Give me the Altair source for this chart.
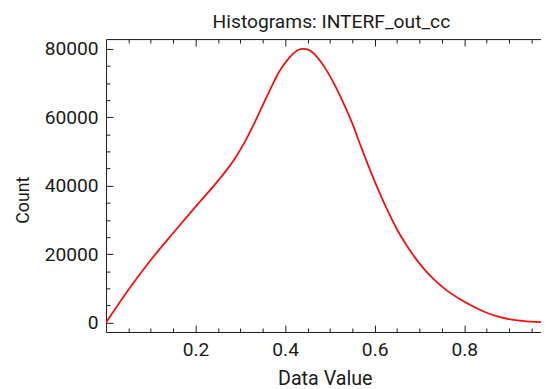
import altair as alt
import pandas as pd

# ---- data ----
DATA_VALUE = [0.0, 0.05, 0.1, 0.15, 0.2, 0.25, 0.27, 0.29, 0.31, 0.33, 0.36,
              0.39, 0.41, 0.43, 0.44, 0.45, 0.47, 0.49, 0.51, 0.53, 0.55,
              0.57, 0.59, 0.61, 0.63, 0.65, 0.67, 0.69, 0.71, 0.73, 0.76,
              0.79, 0.82, 0.85, 0.88, 0.91, 0.94, 0.975]
COUNT = [0, 9600, 18300, 26200, 33900, 41400, 44700, 48400, 52800, 57900, 66300,
         74000, 77500, 79700, 80000, 79800, 77800, 74200, 69600, 64200, 58200,
         51200, 44500, 38200, 32400, 27200, 22800, 19000, 15700, 12900, 9500,
         6900, 4700, 2900, 1600, 800, 350, 150]

X_LABELS = [0.2, 0.4, 0.6, 0.8]
X_MINOR = [0.05, 0.1, 0.15, 0.25, 0.3, 0.35, 0.45, 0.5, 0.55, 0.65, 0.7, 0.75, 0.85, 0.9, 0.95]
Y_LABELS = [0, 20000, 40000, 60000, 80000]
Y_MINOR = [5000, 10000, 15000, 25000, 30000, 35000, 45000, 50000, 55000,
           65000, 70000, 75000]

X_DOMAIN = [0, 0.9714]
Y_DOMAIN = [-2730, 82830]

TITLE = "Histograms: INTERF_out_cc"
X_TITLE = "Data Value"
Y_TITLE = "Count"

df = pd.DataFrame({"value": DATA_VALUE, "count": COUNT})

FONT = "Roboto"
INK = "#1a1a1a"
xs = alt.Scale(domain=X_DOMAIN, nice=False, zero=False)
ys = alt.Scale(domain=Y_DOMAIN, nice=False, zero=False)


def tick_axis(orient, values, size, offset, domain=False):
    return alt.Axis(orient=orient, values=values, tickSize=size, offset=offset,
                    labels=False, domain=domain, grid=False, title=None,
                    tickColor=INK, tickWidth=1, domainColor=INK)


main = alt.Chart(df).mark_line(color="#f01010", strokeWidth=1.8, clip=True,
                               interpolate="monotone").encode(
    x=alt.X("value:Q", scale=xs, axis=alt.Axis(
        orient="bottom", values=X_LABELS, ticks=False, tickSize=0, labelPadding=9,
        labelFontSize=19.5, labelFont=FONT, labelColor=INK, domainColor=INK,
        grid=False, title=X_TITLE, titleFont=FONT, titleFontSize=20,
        titleFontWeight="normal", titleColor=INK, titleX=222, titleY=53,
        titleBaseline="alphabetic", titleAlign="center", format=".1f")),
    y=alt.Y("count:Q", scale=ys, axis=alt.Axis(
        orient="left", values=Y_LABELS, ticks=False, tickSize=0, labelPadding=8,
        labelFontSize=19.5, labelFont=FONT, labelColor=INK, domainColor=INK,
        grid=False, format="d", title=Y_TITLE, titleFont=FONT, titleFontSize=18,
        titleFontWeight="normal", titleColor=INK, titleAngle=-90,
        titleX=-79, titleY=163, titleBaseline="alphabetic", titleAlign="center")),
)


def ghost(xaxis, yaxis):
    return alt.Chart(df).mark_line(opacity=0).encode(
        x=alt.X("value:Q", scale=xs, axis=xaxis),
        y=alt.Y("count:Q", scale=ys, axis=yaxis),
    )


major = ghost(tick_axis("bottom", X_LABELS, 7, -7), tick_axis("left", Y_LABELS, 7, -7))
minor = ghost(tick_axis("bottom", X_MINOR, 4, -4), tick_axis("left", Y_MINOR, 4, -4))
top_dom = ghost(tick_axis("top", X_LABELS, 0, 0, domain=True), None)
top_major = ghost(tick_axis("top", X_LABELS, 7, -7), None)
top_minor = ghost(tick_axis("top", X_MINOR, 4, -4), None)

chart = alt.layer(main, major, minor, top_dom, top_major, top_minor).resolve_axis(
    x="independent", y="independent"
).properties(
    width=441.5,
    height=297.3,
    padding={"left": 99.5, "top": 28.7, "right": 0, "bottom": 55},
    autosize=alt.AutoSizeParams(type="none"),
    title=alt.TitleParams(TITLE, font=FONT, fontSize=19.5, fontWeight="normal",
                          color=INK, anchor="middle", baseline="alphabetic",
                          offset=-9, dx=8),
).configure_view(stroke=None).configure(background="white")

chart.save("out.html", embed_options={"renderer": "svg", "actions": False})
